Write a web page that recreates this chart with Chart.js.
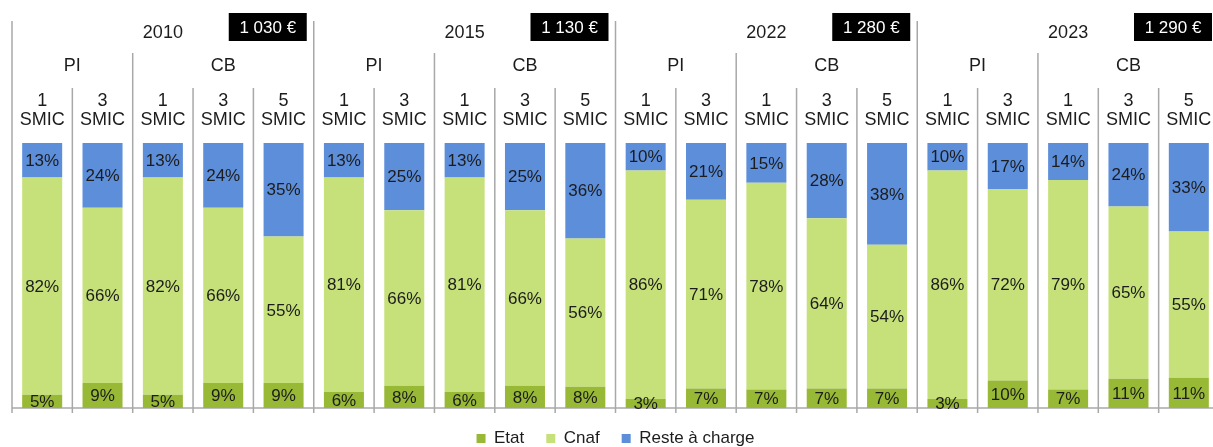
<!DOCTYPE html>
<html>
<head>
<meta charset="utf-8">
<script src="https://cdn.jsdelivr.net/npm/chart.js@4/dist/chart.umd.min.js"></script>
<style>
    html, body { margin: 0; padding: 0; background: #fff; overflow: hidden; }
    #cadre { width: 1219px; height: 447px; }
</style>
</head>
<body>
<div id="cadre"><canvas id="graphique"></canvas></div>
<script>
// DONNÉES
const annees = ['2010', '2015', '2022', '2023']
const montants = ['1 030 €', '1 130 €', '1 280 €', '1 290 €']
const dispositifs = ['PI', 'PI', 'CB', 'CB', 'CB']
const revenus = ['1', '3', '1', '3', '5']

// une valeur par barre : 2010 (PI 1, PI 3, CB 1, CB 3, CB 5), puis 2015, 2022, 2023
const etat = [5, 9.4, 5, 9.4, 9.4,   6, 8.4, 6, 8.4, 8,   3.4, 7.4, 7, 7.4, 7.4,   3.4, 10.4, 7, 11, 11.4]
const cnaf = [82, 66.2, 82, 66.2, 55.3,   81, 66.2, 81, 66.2, 56,   86.2, 71.2, 78, 64.2, 54.2,   86.2, 72.2, 79, 65, 55.2]
const resteACharge = [13, 24.4, 13, 24.4, 35.3,   13, 25.4, 13, 25.4, 36,   10.4, 21.4, 15, 28.4, 38.4,   10.4, 17.4, 14, 24, 33.4]

const categories = []
annees.forEach(a => {
    revenus.forEach((r, i) => categories.push(a + ' ' + dispositifs[i] + ' ' + r + ' SMIC'))
})

const police = '"Liberation Sans", Arial, sans-serif'
const gris = '#a8a8a8'

// ÉTIQUETTES DANS LES BARRES
const etiquettes = {
    id: 'etiquettes',
    afterDatasetsDraw(chart) {
        const ctx = chart.ctx
        ctx.save()
        ctx.font = '17px ' + police
        ctx.fillStyle = '#1c1c1c'
        ctx.textAlign = 'center'
        ctx.textBaseline = 'middle'
        chart.data.datasets.forEach((ds, d) => {
            chart.getDatasetMeta(d).data.forEach((barre, i) => {
                ctx.fillText(Math.round(ds.data[i]) + '%', barre.x, (barre.y + barre.base) / 2 + 1)
            })
        })
        ctx.restore()
    }
}

// EN-TÊTE ET SÉPARATEURS
const entete = {
    id: 'entete',
    beforeDatasetsDraw(chart) {
        const ctx = chart.ctx
        const x = chart.scales.x
        const zone = chart.chartArea
        const n = categories.length
        const pas = x.width / n
        const bord = i => x.left + i * pas

        ctx.save()
        ctx.strokeStyle = gris
        ctx.lineWidth = 1.5
        for (let i = 0; i <= n; i++) {
            let haut = 88
            if (i % 5 === 0) haut = 21
            else if (i % 5 === 2) haut = 53
            ctx.beginPath()
            ctx.moveTo(bord(i), haut)
            ctx.lineTo(bord(i), zone.bottom + 5)
            ctx.stroke()
        }
        ctx.beginPath()
        ctx.moveTo(x.left, zone.bottom)
        ctx.lineTo(x.right, zone.bottom)
        ctx.stroke()

        ctx.textAlign = 'center'
        ctx.textBaseline = 'middle'
        annees.forEach((a, k) => {
            const g = bord(k * 5)
            const d = bord(k * 5 + 5)
            ctx.fillStyle = '#1c1c1c'
            ctx.font = '18px ' + police
            ctx.fillText(a, (g + d) / 2, 33)
            ctx.fillText('PI', (g + bord(k * 5 + 2)) / 2, 66)
            ctx.fillText('CB', (bord(k * 5 + 2) + d) / 2, 66)
            revenus.forEach((r, j) => {
                const c = bord(k * 5 + j) + pas / 2
                ctx.fillText(r, c, 101)
                ctx.fillText('SMIC', c, 120)
            })
            ctx.fillStyle = '#000'
            ctx.fillRect(d - 85, 13, 78, 28)
            ctx.fillStyle = '#fff'
            ctx.font = '17px ' + police
            ctx.fillText(montants[k], d - 46, 28)
        })
        ctx.restore()
    }
}

const configuration = {
    type: 'bar',
    data: {
        labels: categories,
        datasets: [
            { label: 'Etat', data: etat, backgroundColor: '#98B936' },
            { label: 'Cnaf', data: cnaf, backgroundColor: '#C6E07A' },
            { label: 'Reste à charge', data: resteACharge, backgroundColor: '#5C8EDA' }
        ]
    },
    options: {
        responsive: true,
        maintainAspectRatio: false,
        animation: false,
        datasets: { bar: { barPercentage: 0.663, categoryPercentage: 1 } },
        layout: { padding: { top: 143, left: 12, right: 0, bottom: -10 } },
        scales: {
            x: { stacked: true, display: false },
            y: { stacked: true, display: false, min: 0, max: 100 }
        },
        plugins: {
            tooltip: { enabled: false },
            legend: {
                position: 'bottom',
                fullSize: false,
                labels: {
                    boxWidth: 9,
                    boxHeight: 9,
                    padding: 22,
                    color: '#1c1c1c',
                    font: { family: police, size: 17 }
                }
            }
        }
    },
    plugins: [entete, etiquettes]
}

const graphique = new Chart(document.getElementById('graphique').getContext('2d'), configuration)
</script>
</body>
</html>
